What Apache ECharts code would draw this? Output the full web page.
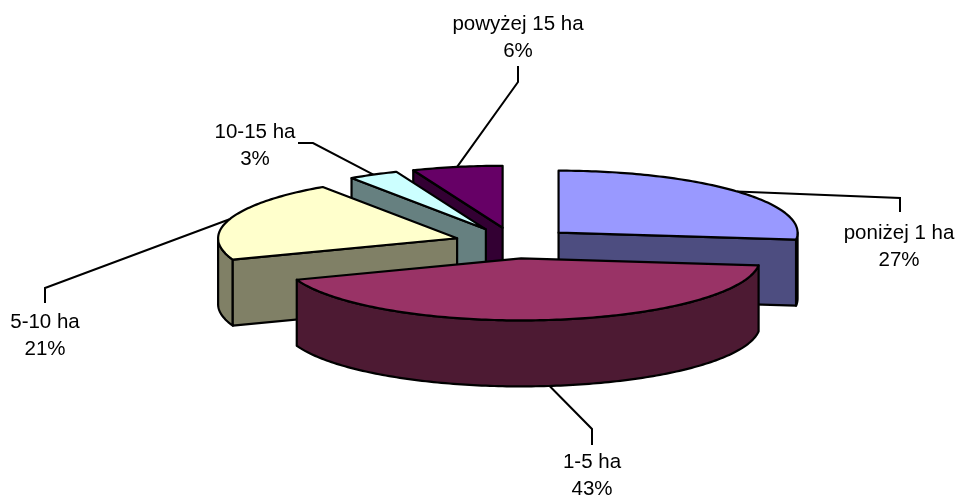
<!DOCTYPE html>
<html>
<head>
<meta charset="utf-8">
<style>
html, body { margin: 0; padding: 0; background: #fff; }
#main { width: 958px; height: 496px; }
</style>
<script src="https://cdn.jsdelivr.net/npm/echarts@6/dist/echarts.min.js"></script>
</head>
<body>
<div id="main"></div>
<script>
var categories = ['poniżej 1 ha', '1-5 ha', '5-10 ha', '10-15 ha', 'powyżej 15 ha'];
var values = [26.8, 42.6, 21.1, 3.4, 6.1];
var topColors = ['#9999FF', '#993366', '#FFFFCC', '#CCFFFF', '#660066'];
var sideColors = ['#4D4D80', '#4D1A33', '#808066', '#668080', '#330033'];
// back slices first, the front one has to cover the others
var drawOrder = [4, 3, 2, 0, 1];

// elbow of each leader line, then the centre of its two line label
var elbows = [[900, 198, 900, 212], [592, 429, 592, 445], [45, 288, 45, 303], [313, 143, 298, 143], [518, 82, 518, 66]];
var labelPos = [[899, 231], [592, 460], [45, 320], [255, 130], [518, 22]];

var cx = 514, cy = 243, rx = 239, ry = 62, depth = 66, explode = 0.25;
var total = values.reduce(function (a, b) { return a + b; }, 0);

var dom = document.getElementById('main');
var myChart = echarts.init(dom);

function angleOf(index) {
    var sum = 0;
    for (var i = 0; i < index; i++) sum += values[i];
    return sum / total * Math.PI * 2;
}

function rimPoint(c, a, down) {
    return [c[0] + rx * Math.sin(a), c[1] - ry * Math.cos(a) + (down || 0)];
}

function poly(points, fill) {
    return {
        type: 'polygon',
        shape: { points: points },
        style: { fill: fill, stroke: '#000', lineWidth: 2.2, lineJoin: 'round' }
    };
}

function renderSlice(params, api) {
    var i = api.value(0);
    var a0 = angleOf(i), a1 = angleOf(i + 1), mid = (a0 + a1) / 2;
    var c = [cx + explode * rx * Math.sin(mid), cy - explode * ry * Math.cos(mid)];
    var children = [];
    var step = Math.PI / 180;
    var a, n;

    // leader line, runs from the rim at the middle of the slice
    var start = rimPoint(c, mid, mid > Math.PI / 2 && mid < Math.PI * 1.5 ? depth : 0);
    var e = elbows[i];
    children.push({
        type: 'polyline',
        shape: { points: [start, [e[0], e[1]], [e[2], e[3]]] },
        style: { fill: null, stroke: '#000', lineWidth: 2 }
    });
    children.push({
        type: 'text',
        style: {
            text: categories[i] + '\n' + Math.round(api.value(1)) + '%',
            x: labelPos[i][0], y: labelPos[i][1] - 11,
            align: 'center', verticalAlign: 'top',
            font: '20.5px "Liberation Sans", Arial, sans-serif',
            lineHeight: 27, fill: '#000'
        }
    });

    // outer wall, only the part turned to the viewer
    var w0 = Math.max(a0, Math.PI / 2), w1 = Math.min(a1, Math.PI * 1.5);
    if (w1 > w0) {
        var wall = [];
        for (a = w0; a < w1; a += step) wall.push(rimPoint(c, a));
        wall.push(rimPoint(c, w1));
        for (n = wall.length - 1; n >= 0; n--) wall.push([wall[n][0], wall[n][1] + depth]);
        children.push(poly(wall, sideColors[i]));
    }

    // cut faces
    var faces = [];
    if (Math.sin(a0) < -1e-6) faces.push(a0);
    if (Math.sin(a1) > 1e-6) faces.push(a1);
    faces.forEach(function (f) {
        var p = rimPoint(c, f);
        children.push(poly([c, p, [p[0], p[1] + depth], [c[0], c[1] + depth]], sideColors[i]));
    });

    // top face
    var top = [c];
    for (a = a0; a < a1; a += step) top.push(rimPoint(c, a));
    top.push(rimPoint(c, a1));
    children.push(poly(top, topColors[i]));

    return { type: 'group', children: children };
}

var option = {
    backgroundColor: '#fff',
    animation: false,
    series: [
        {
            type: 'custom',
            coordinateSystem: 'none',
            renderItem: renderSlice,
            data: drawOrder.map(function (i) { return [i, values[i]]; })
        }
    ]
};
myChart.setOption(option, true);
</script>
</body>
</html>
